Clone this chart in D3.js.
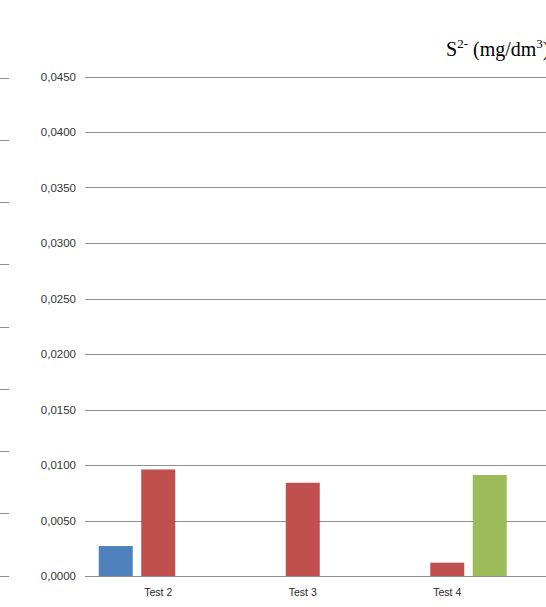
<!DOCTYPE html>
<html>
<head>
<meta charset="utf-8">
<script src="https://cdn.jsdelivr.net/npm/d3@7"></script>
<style>
  html, body { margin: 0; padding: 0; background: #fff; }
  svg { display: block; }
</style>
</head>
<body>
<script>
// Sulphide concentration per test, three sample series
const categories = ["Test 2", "Test 3", "Test 4"];
const seriesNames = ["Serie 1", "Serie 2", "Serie 3"];
const serie1 = [0.0027, null, null];
const serie2 = [0.0096, 0.0084, 0.0012];
const serie3 = [null, null, 0.0091];
const yTicks = [0, 0.005, 0.01, 0.015, 0.02, 0.025, 0.03, 0.035, 0.04, 0.045];
const colors = ["#4f81bd", "#c0504d", "#9bbb59"];

const W = 546, H = 607;
const svg = d3.select("body").append("svg").attr("width", W).attr("height", H);

const y = d3.scaleLinear().domain([0, 0.045]).range([576, 76.5]);
const x = d3.scaleBand().domain(categories).range([86, 86 + 3 * 144.5]);
const xs = d3.scaleBand().domain(seriesNames).range([0, x.bandwidth()])
  .paddingInner(0.2).paddingOuter(0.3);

const fmt = v => d3.format(".4f")(v).replace(".", ",");

// horizontal gridlines
svg.append("g").selectAll("line").data(yTicks).join("line")
  .attr("x1", 85).attr("x2", W)
  .attr("y1", d => Math.round(y(d)) + 0.5).attr("y2", d => Math.round(y(d)) + 0.5)
  .attr("stroke", "#8e8e8e").attr("stroke-width", 1);

// y tick labels
svg.append("g").selectAll("text").data(yTicks).join("text")
  .attr("x", 76).attr("y", d => y(d)).attr("dy", "0.35em")
  .attr("text-anchor", "end")
  .attr("font-family", "Liberation Sans, Arial, sans-serif")
  .attr("font-size", 11.5).attr("fill", "#333")
  .text(fmt);

// gridline stubs of the neighbouring panel at the left edge
const stub = d3.scaleLinear().domain([0, 8]).range([575.5, 77.5]);
svg.append("g").selectAll("line").data(d3.range(0, 9)).join("line")
  .attr("x1", 0).attr("x2", 9)
  .attr("y1", d => Math.round(stub(d)) + 0.5).attr("y2", d => Math.round(stub(d)) + 0.5)
  .attr("stroke", "#8e8e8e").attr("stroke-width", 1);

// bars
const series = [serie1, serie2, serie3];
const bars = [];
series.forEach((vals, si) => vals.forEach((v, ci) => {
  if (v != null) bars.push({ cat: categories[ci], s: seriesNames[si], v, c: colors[si] });
}));
svg.append("g").selectAll("rect").data(bars).join("rect")
  .attr("x", d => x(d.cat) + xs(d.s))
  .attr("width", xs.bandwidth())
  .attr("y", d => y(d.v))
  .attr("height", d => y(0) - y(d.v))
  .attr("fill", d => d.c);

// category labels
svg.append("g").selectAll("text").data(categories).join("text")
  .attr("x", d => x(d) + x.bandwidth() / 2).attr("y", 595.5)
  .attr("text-anchor", "middle")
  .attr("font-family", "Liberation Sans, Arial, sans-serif")
  .attr("font-size", 10.5).attr("fill", "#262626")
  .text(d => d);

// title
const t = svg.append("text").attr("x", 446).attr("y", 56)
  .attr("font-family", "Liberation Serif, Times New Roman, serif")
  .attr("font-size", 20).attr("fill", "#000");
t.append("tspan").text("S");
t.append("tspan").attr("font-size", 13).attr("dy", -8).text("2-");
t.append("tspan").attr("dy", 8).text(" (mg/dm");
t.append("tspan").attr("font-size", 13).attr("dy", -8).text("3");
t.append("tspan").attr("dy", 8).text(")");
</script>
</body>
</html>
